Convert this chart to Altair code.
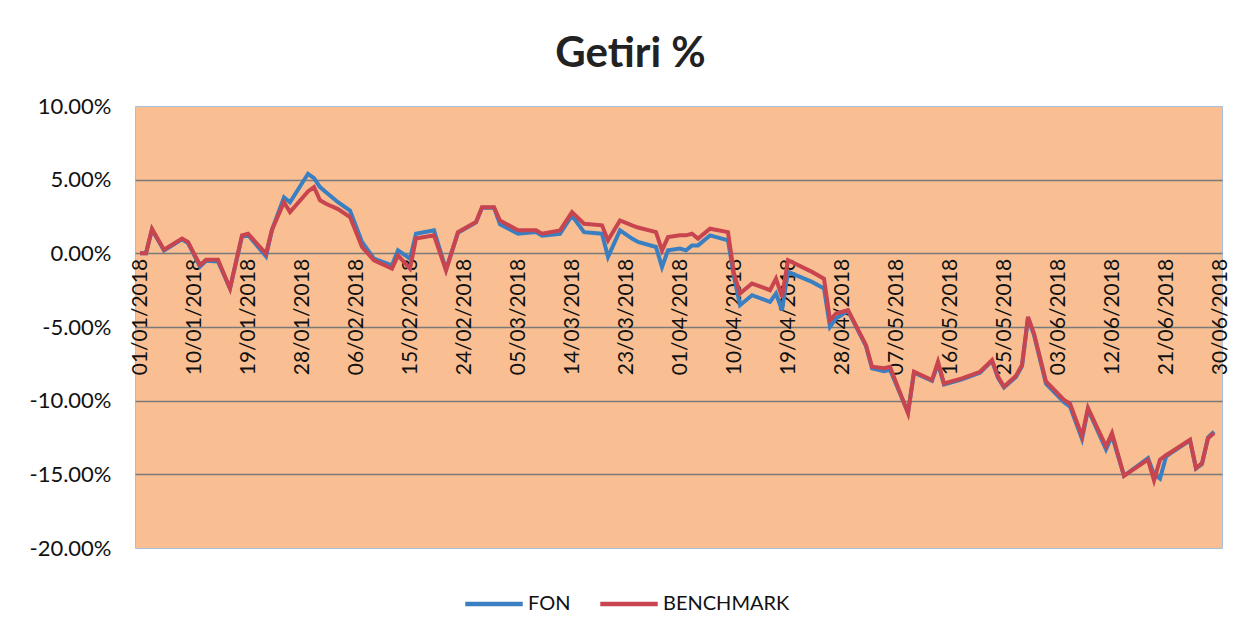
import altair as alt
import pandas as pd

# ---- data (day offset from 01/01/2018, values in %) ----
days = [0, 1, 2, 4, 7, 8, 10, 11, 13, 15, 17, 18, 21, 22, 24, 25, 28, 29, 30, 31,
        33, 35, 37, 39, 42, 43, 45, 46, 49, 51, 53, 56, 57, 59, 60, 63, 66, 67, 70, 72,
        74, 77, 78, 80, 82, 83, 86, 87, 88, 90, 91, 92, 93, 95, 98, 99, 100, 102, 105, 106,
        107, 108, 112, 114, 115, 116, 118, 121, 122, 124, 125, 128, 129, 132, 133, 134, 137, 140, 142, 143,
        144, 146, 147, 148, 149, 151, 154, 155, 157, 158, 161, 162, 164, 168, 169, 170, 171, 172, 175, 176,
        177, 178, 179]

fon = [0.0, 0.0, 1.6, 0.2, 0.95, 0.7, -0.9, -0.5, -0.55, -2.39, 1.15, 1.25, -0.2, 1.6, 3.8, 3.47, 5.4, 5.1, 4.5, 4.15,
       3.47, 2.9, 0.77, -0.36, -0.81, 0.2, -0.36, 1.33, 1.56, -1.1, 1.4, 2.1, 3.1, 3.1, 1.97, 1.33, 1.44, 1.2, 1.33, 2.57,
       1.44, 1.33, -0.25, 1.56, 1.0, 0.77, 0.43, -0.93, 0.2, 0.32, 0.2, 0.54, 0.54, 1.22, 0.88, -1.6, -3.52, -2.84, -3.3, -2.73,
       -3.86, -1.26, -1.94, -2.39, -4.99, -4.42, -3.9, -6.3, -7.8, -8.0, -7.9, -10.8, -8.1, -8.65, -7.5, -8.9, -8.55, -8.1, -7.3, -8.45,
       -9.1, -8.4, -7.65, -4.4, -5.55, -8.85, -10.1, -10.4, -12.6, -10.6, -13.3, -12.4, -15.1, -13.9, -15.0, -15.3, -13.8, -13.5, -12.7, -14.6,
       -14.3, -12.5, -12.1]

benchmark = [0.0, 0.0, 1.67, 0.25, 1.0, 0.77, -0.81, -0.43, -0.43, -2.39, 1.22, 1.33, -0.02, 1.6, 3.47, 2.8, 4.2, 4.5, 3.6, 3.36,
             3.0, 2.46, 0.43, -0.47, -1.04, -0.14, -1.04, 1.0, 1.22, -1.15, 1.44, 2.12, 3.13, 3.13, 2.23, 1.56, 1.56, 1.33, 1.56, 2.8,
             2.01, 1.9, 0.88, 2.23, 1.9, 1.75, 1.44, 0.2, 1.1, 1.22, 1.22, 1.33, 1.0, 1.67, 1.44, -1.38, -2.73, -2.05, -2.5, -1.72,
             -2.96, -0.47, -1.26, -1.72, -4.54, -4.08, -3.86, -6.23, -7.7, -7.8, -7.7, -10.85, -8.04, -8.6, -7.36, -8.83, -8.49, -8.04, -7.24, -8.37,
             -9.05, -8.3, -7.58, -4.31, -5.44, -8.7, -9.95, -10.2, -12.4, -10.5, -13.1, -12.2, -15.1, -14.0, -15.4, -14.0, -13.7, -13.45, -12.66, -14.58,
             -14.24, -12.55, -12.2]

series_names = ["FON", "BENCHMARK"]
series_colors = ["#3a7fc1", "#c8444f"]

tick_dates = ["2018-01-01", "2018-01-10", "2018-01-19", "2018-01-28", "2018-02-06", "2018-02-15",
              "2018-02-24", "2018-03-05", "2018-03-14", "2018-03-23", "2018-04-01", "2018-04-10",
              "2018-04-19", "2018-04-28", "2018-05-07", "2018-05-16", "2018-05-25", "2018-06-03",
              "2018-06-12", "2018-06-21", "2018-06-30"]
y_ticks = [10, 5, 0, -5, -10, -15, -20]

# ---- build table ----
start = pd.Timestamp("2018-01-01")
dates = [(start + pd.Timedelta(days=d)).strftime("%Y-%m-%d") for d in days]
rows = []
for name, vals in zip(series_names, [fon, benchmark]):
    for dt, v in zip(dates, vals):
        rows.append({"date": dt, "value": v, "series": name})
df = pd.DataFrame(rows)


def dt_obj(s, hours=0):
    y, m, d = (int(p) for p in s.split("-"))
    return alt.DateTime(year=y, month=m, date=d, hours=hours, utc=True)


W, H = 1087, 442
FONT = "Lato"

x_enc = alt.X(
    "date:T",
    scale=alt.Scale(type="utc", domain=[dt_obj("2017-12-31", 4), dt_obj("2018-06-30", 8)], nice=False),
    axis=alt.Axis(
        values=[dt_obj(s) for s in tick_dates],
        format="%d/%m/%Y",
        labelAngle=270,
        orient="bottom",
        offset=-H * 2 / 3,
        domain=False,
        ticks=False,
        grid=False,
        labelPadding=5,
        labelFontSize=21,
        labelFont=FONT,
        labelColor="#111111",
        labelOverlap=False,
        labelBound=False,
        labelFlush=False,
        title=None,
    ),
)

y_enc = alt.Y(
    "value:Q",
    scale=alt.Scale(domain=[-20, 10], nice=False, zero=False),
    axis=alt.Axis(
        values=y_ticks,
        labelExpr="(datum.value < 0 ? '-' : '') + format(abs(datum.value), '.2f') + '%'",
        domain=False,
        ticks=False,
        labelPadding=24,
        labelFontSize=22,
        labelFont=FONT,
        labelColor="#111111",
        gridColor="#7a7a7a",
        gridWidth=1.5,
        gridOpacity={"condition": {"test": "datum.value >= 10 || datum.value <= -20", "value": 0}, "value": 1},
        title=None,
    ),
)

color_enc = alt.Color(
    "series:N",
    scale=alt.Scale(domain=series_names, range=series_colors),
    legend=alt.Legend(
        orient="none",
        legendX=328,
        legendY=467,
        direction="horizontal",
        title=None,
        symbolType="stroke",
        symbolStrokeWidth=4.5,
        symbolSize=3300,
        labelFontSize=20,
        labelFont=FONT,
        labelColor="#111111",
        labelOffset=3,
        columnPadding=20,
    ),
)

base = alt.Chart(df).encode(x=x_enc, y=y_enc, color=color_enc)
fon_line = base.transform_filter(alt.datum.series == "FON").mark_line(strokeWidth=4)
bm_line = base.transform_filter(alt.datum.series == "BENCHMARK").mark_line(strokeWidth=4)

chart = (
    alt.layer(fon_line, bm_line)
    .properties(
        width=W,
        height=H,
        background="white",
        autosize=alt.AutoSizeParams(type="none"),
        padding={"left": 127, "top": 98, "right": 23, "bottom": 80},
        title=alt.TitleParams(
            "Getiri %",
            font=FONT,
            fontSize=42,
            fontWeight="bold",
            color="#222222",
            anchor="middle",
            offset=19,
            dx=-48,
        ),
    )
    .configure_view(fill="#f9bf93", stroke="#a8c0e0", strokeWidth=1)
)

chart.save("out.html", embed_options={"renderer": "svg", "actions": False})
